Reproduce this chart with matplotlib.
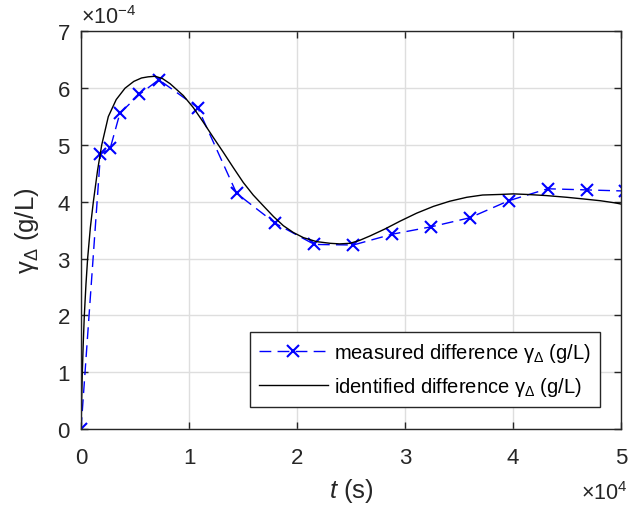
import matplotlib.pyplot as plt
from matplotlib.ticker import FuncFormatter

plt.rcParams['font.family'] = ['Liberation Sans', 'DejaVu Sans']
plt.rcParams['mathtext.fontset'] = 'custom'
plt.rcParams['mathtext.rm'] = 'Liberation Sans'
plt.rcParams['mathtext.it'] = 'Liberation Sans:italic'

# measured samples (s, g/L)
t_meas = [0, 1800, 2700, 3600, 5400, 7200, 10800, 14400, 18000, 21600, 25200,
          28800, 32400, 36000, 39600, 43200, 46800, 50400]
g_meas = [0.0, 4.84e-4, 4.94e-4, 5.56e-4, 5.89e-4, 6.15e-4, 5.66e-4, 4.15e-4,
          3.62e-4, 3.25e-4, 3.24e-4, 3.43e-4, 3.56e-4, 3.72e-4, 4.02e-4,
          4.23e-4, 4.21e-4, 4.19e-4]

# identified model response (s, 1e-4 g/L)
t_model = [0, 61, 122, 204, 306, 458, 611, 866, 1141, 1528, 1915, 2526, 3259,
           4074, 4889, 5602, 6213, 6855, 7537, 8240, 9472, 10389, 11326, 12222,
           13179, 14106, 15023, 15940, 16876, 17824, 18730, 19657, 20584,
           21796, 23059, 23935, 24902, 25768, 26756, 28111, 29537, 31064,
           32623, 34120, 35709, 37175, 38795, 40027, 41270, 43083, 44967,
           46545, 48053, 49500, 50000]
g_model = [0.0, 0.55, 1.0, 1.5, 2.0, 2.55, 3.0, 3.55, 4.0, 4.55, 5.0, 5.5, 5.8,
           6.0, 6.12, 6.18, 6.2, 6.21, 6.17, 6.08, 5.87, 5.66, 5.40, 5.14,
           4.87, 4.60, 4.34, 4.12, 3.93, 3.74, 3.58, 3.46, 3.37, 3.30, 3.27,
           3.26, 3.27, 3.32, 3.40, 3.52, 3.66, 3.80, 3.92, 4.01, 4.08, 4.12,
           4.13, 4.14, 4.13, 4.11, 4.08, 4.05, 4.02, 3.98, 3.96]
g_model = [v * 1e-4 for v in g_model]

gam = r'$\mathrm{\gamma}_{\Delta}$'

fig = plt.figure(figsize=(6.43, 5.06), dpi=100)
ax = fig.add_axes([0.126, 0.150, 0.840, 0.786])

ax.plot(t_meas, g_meas, color='#0000ff', linestyle=(0, (8.5, 4.5)), linewidth=1,
        marker='x', markersize=9, markeredgewidth=1.5,
        label='measured difference ' + gam + ' (g/L)')
ax.plot(t_model, g_model, color='black', linewidth=1,
        label='identified difference ' + gam + ' (g/L)')

ax.set_xlim(0, 5e4)
ax.set_ylim(0, 7e-4)
ax.set_xticks([i * 1e4 for i in range(6)])
ax.set_yticks([i * 1e-4 for i in range(8)])
ax.xaxis.set_major_formatter(FuncFormatter(lambda v, p: '%g' % round(v / 1e4, 6)))
ax.yaxis.set_major_formatter(FuncFormatter(lambda v, p: '%g' % round(v / 1e-4, 6)))

ax.grid(True, color='#dedede', linewidth=1)
ax.set_axisbelow(True)
for s in ax.spines.values():
    s.set_color('#262626')
    s.set_linewidth(1)
ax.tick_params(direction='in', length=5, width=1, top=True, right=True,
               labelsize=16, colors='#262626')
ax.tick_params(axis='x', pad=13)
ax.tick_params(axis='y', pad=8)

ax.set_xlabel(r'$t$ (s)', fontsize=18.5, color='#262626', labelpad=6)
ax.set_ylabel(gam + ' (g/L)', fontsize=18.5, color='#262626', labelpad=12)

ax.text(0.0, 1.008, r'$\times\mathrm{10^{-4}}$', transform=ax.transAxes,
        fontsize=15.5, color='#262626', ha='left', va='bottom')
ax.text(1.011, -0.175, r'$\times\mathrm{10^{4}}$', transform=ax.transAxes,
        fontsize=15.5, color='#262626', ha='right', va='baseline')

leg = ax.legend(loc='lower right', bbox_to_anchor=(0.96, 0.055), fontsize=14.5,
                fancybox=False, framealpha=1, edgecolor='#262626',
                handlelength=3.4, handletextpad=0.3, borderpad=0.45,
                labelspacing=0.55, borderaxespad=0)
leg.get_frame().set_linewidth(1)

fig.savefig('out.png', dpi=100)
